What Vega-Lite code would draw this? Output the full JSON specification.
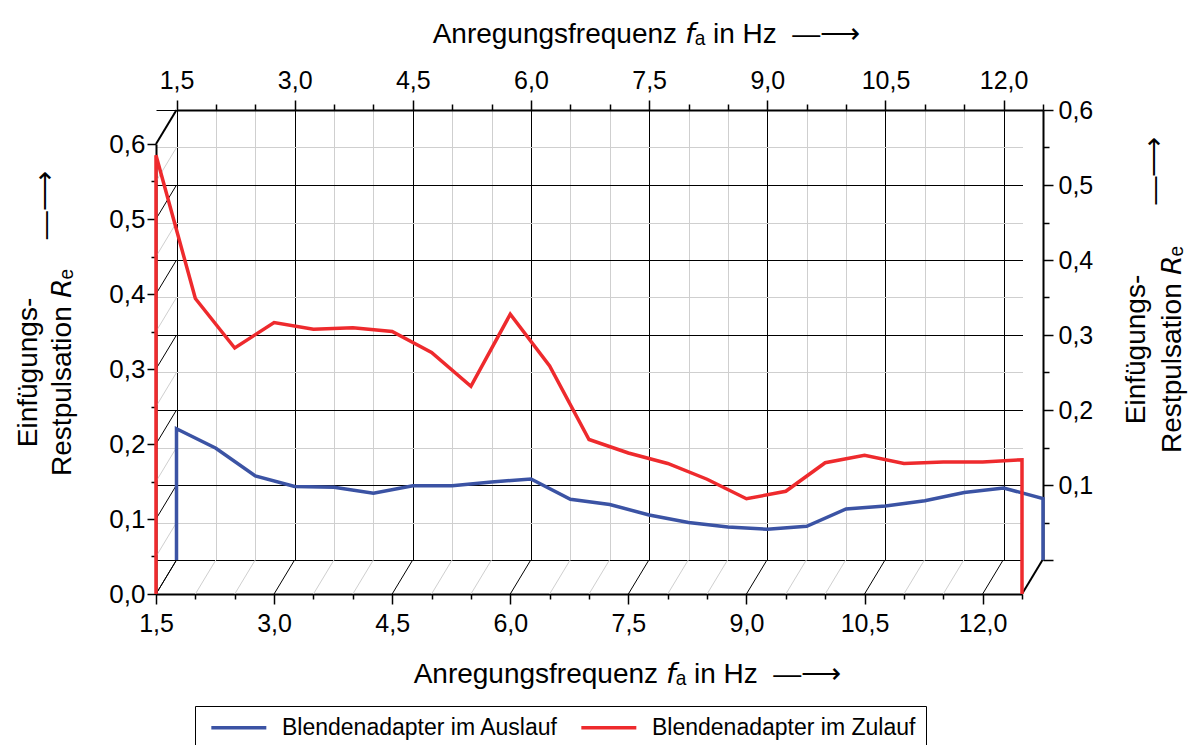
{
  "$schema": "https://vega.github.io/schema/vega-lite/v6.json",
  "width": 887,
  "height": 484,
  "autosize": {"type": "none"},
  "padding": {"left": 156, "top": 110, "right": 158, "bottom": 151},
  "background": "white",
  "config": {
    "view": {"stroke": null},
    "font": "Liberation Sans",
    "axis": {
      "labelColor": "black",
      "titleColor": "black",
      "titleFontWeight": "normal",
      "labelFontSize": 25,
      "titleFontSize": 28,
      "domainColor": "black",
      "domainWidth": 2,
      "tickColor": "black",
      "tickWidth": 1.5,
      "labelOverlap": false,
      "labelFlush": false,
      "labelBound": false,
      "labelAngle": 0,
      "titleLimit": 2000
    },
    "legend": {
      "orient": "none", "legendX": 39, "legendY": 596, "direction": "horizontal", "title": null,
      "columns": 2, "gridAlign": "all",
      "strokeColor": "black", "padding": 10, "symbolType": "M-1,0H5", "symbolSize": 336, "symbolStrokeWidth": 3.5,
      "symbolOffset": 4, "labelFontSize": 23, "labelColor": "black", "labelLimit": 500, "columnPadding": 15, "labelOffset": 50
    }
  },
  "datasets": {
    "auslauf": [
      {"i": 0, "f": 1.5, "re": 0},
      {"i": 1, "f": 1.5, "re": 0.175},
      {"i": 2, "f": 2.0, "re": 0.149},
      {"i": 3, "f": 2.5, "re": 0.112},
      {"i": 4, "f": 3.0, "re": 0.098},
      {"i": 5, "f": 3.5, "re": 0.097},
      {"i": 6, "f": 4.0, "re": 0.089},
      {"i": 7, "f": 4.5, "re": 0.099},
      {"i": 8, "f": 5.0, "re": 0.099},
      {"i": 9, "f": 5.5, "re": 0.104},
      {"i": 10, "f": 6.0, "re": 0.108},
      {"i": 11, "f": 6.5, "re": 0.081},
      {"i": 12, "f": 7.0, "re": 0.074},
      {"i": 13, "f": 7.5, "re": 0.060},
      {"i": 14, "f": 8.0, "re": 0.050},
      {"i": 15, "f": 8.5, "re": 0.044},
      {"i": 16, "f": 9.0, "re": 0.041},
      {"i": 17, "f": 9.5, "re": 0.045},
      {"i": 18, "f": 10.0, "re": 0.068},
      {"i": 19, "f": 10.5, "re": 0.072},
      {"i": 20, "f": 11.0, "re": 0.079},
      {"i": 21, "f": 11.5, "re": 0.090},
      {"i": 22, "f": 12.0, "re": 0.096},
      {"i": 23, "f": 12.5, "re": 0.082},
      {"i": 24, "f": 12.5, "re": 0}
    ],
    "zulauf": [
      {"i": 0, "f": 1.5, "re": 0},
      {"i": 1, "f": 1.5, "re": 0.585},
      {"i": 2, "f": 2.0, "re": 0.394},
      {"i": 3, "f": 2.5, "re": 0.328},
      {"i": 4, "f": 3.0, "re": 0.362},
      {"i": 5, "f": 3.5, "re": 0.353},
      {"i": 6, "f": 4.0, "re": 0.355},
      {"i": 7, "f": 4.5, "re": 0.350},
      {"i": 8, "f": 5.0, "re": 0.322},
      {"i": 9, "f": 5.5, "re": 0.277},
      {"i": 10, "f": 6.0, "re": 0.373},
      {"i": 11, "f": 6.5, "re": 0.304},
      {"i": 12, "f": 7.0, "re": 0.206},
      {"i": 13, "f": 7.5, "re": 0.188},
      {"i": 14, "f": 8.0, "re": 0.174},
      {"i": 15, "f": 8.5, "re": 0.153},
      {"i": 16, "f": 9.0, "re": 0.127},
      {"i": 17, "f": 9.5, "re": 0.137},
      {"i": 18, "f": 10.0, "re": 0.175},
      {"i": 19, "f": 10.5, "re": 0.185},
      {"i": 20, "f": 11.0, "re": 0.174},
      {"i": 21, "f": 11.5, "re": 0.176},
      {"i": 22, "f": 12.0, "re": 0.176},
      {"i": 23, "f": 12.5, "re": 0.179},
      {"i": 24, "f": 12.5, "re": 0}
    ],
    "fx": [
      {"f": 1.5}, {"f": 2.0}, {"f": 2.5}, {"f": 3.0}, {"f": 3.5}, {"f": 4.0}, {"f": 4.5}, {"f": 5.0},
      {"f": 5.5}, {"f": 6.0}, {"f": 6.5}, {"f": 7.0}, {"f": 7.5}, {"f": 8.0}, {"f": 8.5}, {"f": 9.0},
      {"f": 9.5}, {"f": 10.0}, {"f": 10.5}, {"f": 11.0}, {"f": 11.5}, {"f": 12.0}, {"f": 12.5}
    ],
    "ry": [
      {"r": 0}, {"r": 0.05}, {"r": 0.1}, {"r": 0.15}, {"r": 0.2}, {"r": 0.25}, {"r": 0.3},
      {"r": 0.35}, {"r": 0.4}, {"r": 0.45}, {"r": 0.5}, {"r": 0.55}, {"r": 0.6}
    ]
  },
  "layer": [
    {
      "data": {"name": "fx"},
      "mark": {"type": "rule", "x2Offset": 20.5, "y2Offset": -34, "clip": false},
      "encoding": {
        "x": {"field": "f", "type": "quantitative", "scale": {"domain": [1.5, 12.5], "range": [0, 866], "nice": false, "zero": false}, "axis": null},
        "x2": {"field": "f"},
        "y": {"datum": 0, "type": "quantitative", "scale": {"domain": [0, 0.6], "range": [484, 34], "nice": false, "zero": false}, "axis": null},
        "y2": {"datum": 0},
        "color": {"condition": {"test": "abs(datum.f/1.5 - round(datum.f/1.5)) < 0.001 || datum.f > 12.4", "value": "#000000"}, "value": "#cfcfcf"},
        "strokeWidth": {"condition": {"test": "datum.f > 12.4", "value": 2}, "value": 1}
      }
    },
    {
      "data": {"name": "ry"},
      "mark": {"type": "rule", "x2Offset": 20.5, "y2Offset": -34, "clip": false},
      "encoding": {
        "x": {"datum": 1.5, "type": "quantitative", "scale": {"domain": [1.5, 12.5], "range": [0, 866], "nice": false, "zero": false}, "axis": null},
        "x2": {"datum": 1.5},
        "y": {"field": "r", "type": "quantitative", "scale": {"domain": [0, 0.6], "range": [484, 34], "nice": false, "zero": false}, "axis": null},
        "y2": {"field": "r"},
        "color": {"condition": {"test": "abs(datum.r*10 - round(datum.r*10)) < 0.001", "value": "#000000"}, "value": "#cfcfcf"},
        "strokeWidth": {"condition": {"test": "datum.r > 0.59", "value": 2}, "value": 1}
      }
    },
    {
      "data": {"name": "auslauf"},
      "mark": {"type": "line", "strokeWidth": 3.5, "clip": false},
      "encoding": {
        "x": {
          "field": "f", "type": "quantitative",
          "scale": {"domain": [1.5, 12.5], "range": [20.5, 887], "nice": false, "zero": false},
          "axis": {
            "orient": "top",
            "values": [1.5, 2, 2.5, 3, 3.5, 4, 4.5, 5, 5.5, 6, 6.5, 7, 7.5, 8, 8.5, 9, 9.5, 10, 10.5, 11, 11.5, 12, 12.5],
            "labelExpr": "abs(datum.value/1.5 - round(datum.value/1.5)) < 0.001 ? replace(format(datum.value, '.1f'), '.', ',') : ''",
            "tickSize": {"condition": {"test": "abs(datum.value/1.5 - round(datum.value/1.5)) < 0.001", "value": 10}, "value": 6},
            "labelPadding": 7,
            "grid": true,
            "gridWidth": 1,
            "gridColor": {"condition": {"test": "abs(datum.value/1.5 - round(datum.value/1.5)) < 0.001", "value": "#000000"}, "value": "#cfcfcf"},
            "title": "Anregungsfrequenz 𝘧ₐ in Hz\u00a0\u00a0—⟶",
            "titleX": 490,
            "titleY": -68,
            "titleAlign": "center",
            "titleBaseline": "alphabetic"
          }
        },
        "y": {
          "field": "re", "type": "quantitative",
          "scale": {"domain": [0, 0.6], "range": [450, 0], "nice": false, "zero": false},
          "axis": {
            "orient": "right",
            "values": [0, 0.05, 0.1, 0.15, 0.2, 0.25, 0.3, 0.35, 0.4, 0.45, 0.5, 0.55, 0.6],
            "labelExpr": "abs(datum.value*10 - round(datum.value*10)) < 0.001 && datum.value > 0.01 ? replace(format(datum.value, '.1f'), '.', ',') : ''",
            "tickSize": {"condition": {"test": "abs(datum.value*10 - round(datum.value*10)) < 0.001", "value": 10}, "value": 6},
            "labelPadding": 5,
            "grid": true,
            "gridWidth": 1,
            "gridColor": {"condition": {"test": "abs(datum.value*10 - round(datum.value*10)) < 0.001", "value": "#000000"}, "value": "#cfcfcf"},
            "title": ["Einfügungs-", "\u200b\u00a0\u00a0\u00a0\u00a0\u00a0\u00a0\u00a0\u00a0\u00a0\u00a0\u00a0\u00a0\u00a0\u00a0\u00a0\u00a0\u00a0\u00a0\u00a0\u00a0\u00a0\u00a0\u00a0\u00a0\u00a0\u00a0\u00a0\u00a0\u00a0\u00a0\u00a0\u00a0\u00a0\u00a0\u00a0\u00a0\u00a0\u00a0\u00a0\u00a0\u00a0\u00a0\u00a0\u00a0\u00a0\u00a0—⟶", "Restpulsation 𝘙ₑ"],
            "titleAngle": -90,
            "titleLineHeight": 18,
            "titleX": 93,
            "titleY": 239,
            "titleAlign": "center",
            "titleBaseline": "middle"
          }
        },
        "color": {
          "datum": "Blendenadapter im Auslauf",
          "type": "nominal",
          "scale": {"domain": ["Blendenadapter im Auslauf", "Blendenadapter im Zulauf"], "range": ["#3B53A4", "#EE2A2D"]}
        },
        "order": {"field": "i", "type": "quantitative"}
      }
    },
    {
      "data": {"name": "zulauf"},
      "mark": {"type": "line", "strokeWidth": 3.5, "clip": false},
      "encoding": {
        "x": {
          "field": "f", "type": "quantitative",
          "scale": {"domain": [1.5, 12.5], "range": [0, 866], "nice": false, "zero": false},
          "axis": {
            "orient": "bottom",
            "values": [1.5, 2, 2.5, 3, 3.5, 4, 4.5, 5, 5.5, 6, 6.5, 7, 7.5, 8, 8.5, 9, 9.5, 10, 10.5, 11, 11.5, 12, 12.5],
            "labelExpr": "abs(datum.value/1.5 - round(datum.value/1.5)) < 0.001 ? replace(format(datum.value, '.1f'), '.', ',') : ''",
            "tickSize": {"condition": {"test": "abs(datum.value/1.5 - round(datum.value/1.5)) < 0.001", "value": 10}, "value": 5},
            "labelPadding": 7,
            "grid": false,
            "title": "Anregungsfrequenz 𝘧ₐ in Hz\u00a0\u00a0—⟶",
            "titleX": 471,
            "titleY": 88,
            "titleAlign": "center",
            "titleBaseline": "alphabetic"
          }
        },
        "y": {
          "field": "re", "type": "quantitative",
          "scale": {"domain": [0, 0.6], "range": [484, 34], "nice": false, "zero": false},
          "axis": {
            "orient": "left",
            "values": [0, 0.05, 0.1, 0.15, 0.2, 0.25, 0.3, 0.35, 0.4, 0.45, 0.5, 0.55, 0.6],
            "labelExpr": "abs(datum.value*10 - round(datum.value*10)) < 0.001 ? replace(format(datum.value, '.1f'), '.', ',') : ''",
            "tickSize": {"condition": {"test": "abs(datum.value*10 - round(datum.value*10)) < 0.001", "value": 9}, "value": 5},
            "labelPadding": 2,
            "labelFontSize": 26,
            "grid": false,
            "title": ["Einfügungs-", "\u200b\u00a0\u00a0\u00a0\u00a0\u00a0\u00a0\u00a0\u00a0\u00a0\u00a0\u00a0\u00a0\u00a0\u00a0\u00a0\u00a0\u00a0\u00a0\u00a0\u00a0\u00a0\u00a0\u00a0\u00a0\u00a0\u00a0\u00a0\u00a0\u00a0\u00a0\u00a0\u00a0\u00a0\u00a0\u00a0\u00a0\u00a0\u00a0\u00a0\u00a0\u00a0\u00a0\u00a0—⟶", "Restpulsation 𝘙ₑ"],
            "titleAngle": -90,
            "titleLineHeight": 17,
            "titleX": -128,
            "titleY": 262,
            "titleAlign": "center",
            "titleBaseline": "middle"
          }
        },
        "color": {
          "datum": "Blendenadapter im Zulauf",
          "type": "nominal",
          "scale": {"domain": ["Blendenadapter im Auslauf", "Blendenadapter im Zulauf"], "range": ["#3B53A4", "#EE2A2D"]}
        },
        "order": {"field": "i", "type": "quantitative"}
      }
    }
  ],
  "resolve": {"scale": {"x": "independent", "y": "independent"}}
}
